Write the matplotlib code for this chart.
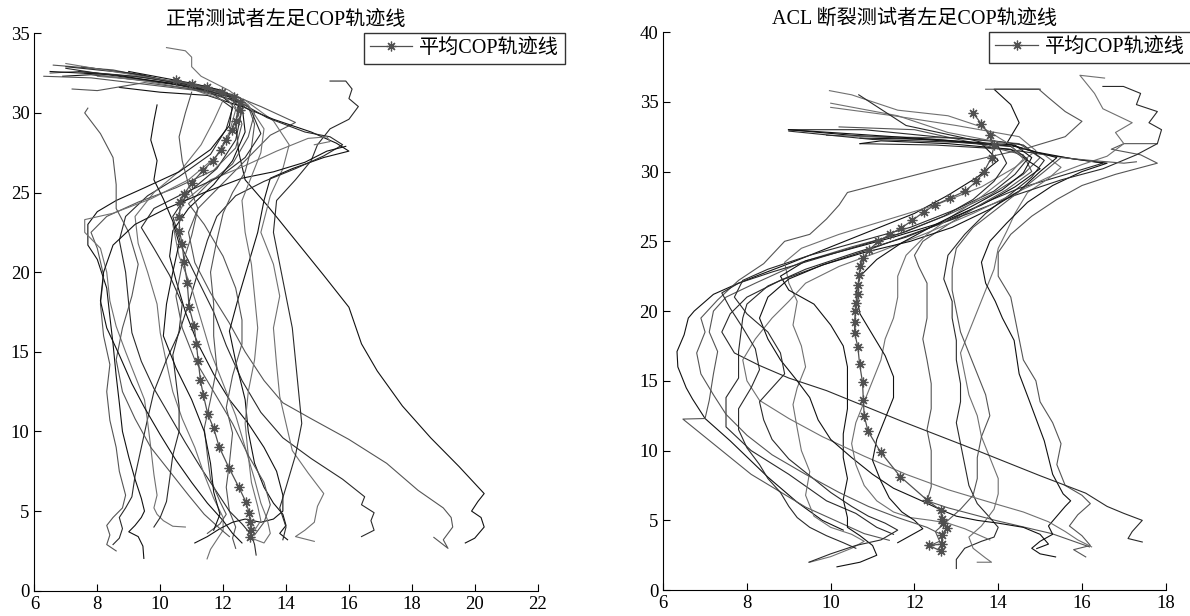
import numpy as np
import matplotlib.pyplot as plt

plt.rcParams['font.family'] = ['Liberation Serif', 'Noto Sans CJK SC']

# 正常测试者: 各次 COP 轨迹 (x, y)
normal_01 = [(19.7, 3.0), (20.0, 3.3), (20.3, 4.0), (20.2, 4.6), (19.9, 5.0), (20.1, 5.6), (20.3, 6.1), (19.5, 7.8), (18.6, 9.6), (17.7, 11.6), (16.9, 13.8), (16.4, 15.5), (16.0, 17.8), (15.2, 19.8), (14.3, 22.0), (13.4, 24.2), (12.7, 25.8), (12.5, 27.5), (12.4, 29.3), (12.5, 30.6), (12.0, 31.3), (10.8, 31.7), (9.2, 32.1), (7.8, 32.4), (6.9, 32.3)]
normal_02 = [(18.7, 3.35), (19.15, 2.66), (19.0, 3.2), (19.3, 4.0), (19.25, 4.6), (19.0, 5.2), (18.2, 6.3), (17.2, 8.0), (16.0, 9.5), (14.8, 10.8), (13.9, 11.8), (13.3, 13.2), (12.7, 15.0), (12.2, 16.8), (11.6, 18.7), (11.1, 20.6), (10.9, 22.5), (11.2, 24.0), (12.0, 25.6), (12.8, 27.2), (13.5, 28.6), (14.3, 29.4), (13.2, 30.4), (12.2, 31.2), (10.5, 31.9), (8.5, 32.7), (6.6, 33.0)]
normal_03 = [(16.4, 3.4), (16.8, 3.8), (16.7, 4.4), (16.8, 4.9), (16.4, 5.4), (16.5, 5.9), (15.8, 7.0), (14.8, 8.3), (13.9, 9.6), (13.2, 11.2), (12.6, 13.2), (12.1, 15.4), (11.7, 17.5), (11.2, 19.5), (10.7, 21.5), (10.4, 23.5), (10.9, 25.0), (11.8, 26.5), (12.4, 28.3), (12.6, 30.2), (12.1, 31.2), (10.9, 31.8), (9.0, 32.5), (7.0, 32.9)]
normal_04 = [(14.9, 3.1), (14.3, 3.4), (14.6, 3.8), (14.9, 4.3), (15.0, 5.3), (15.2, 6.1), (14.7, 7.4), (14.2, 8.8), (14.0, 10.5), (13.8, 12.2), (13.7, 14.2), (13.6, 16.5), (13.8, 18.5), (13.6, 20.5), (13.2, 22.5), (13.5, 24.8), (13.9, 26.5), (14.1, 28.0), (13.6, 29.5), (12.7, 30.8), (11.5, 31.6), (9.8, 32.0), (8.0, 32.3)]
normal_05 = [(14.05, 3.2), (13.8, 3.6), (14.0, 4.1), (13.9, 4.8), (13.6, 5.5), (13.3, 6.5), (13.0, 8.0), (12.8, 10.0), (12.7, 12.0), (12.4, 14.4), (12.2, 16.3), (12.5, 18.5), (12.8, 20.5), (13.1, 22.5), (13.3, 24.5), (13.5, 25.9), (14.2, 26.5), (15.2, 27.2), (16.0, 27.6), (15.6, 28.1), (14.8, 28.8), (13.6, 29.6), (12.6, 30.4), (11.5, 31.1), (10.0, 31.3), (8.7, 31.6)]
normal_06 = [(12.4, 2.66), (12.3, 3.3), (12.4, 4.0), (12.2, 5.0), (12.1, 6.5), (12.2, 8.0), (12.3, 9.9), (12.1, 11.5), (12.3, 13.5), (12.6, 15.5), (12.6, 17.0), (12.4, 19.0), (12.0, 21.0), (11.4, 23.0), (10.9, 24.3), (11.5, 25.5), (12.3, 26.8), (12.8, 28.5), (13.0, 30.0), (12.5, 31.0), (11.4, 31.7), (9.6, 32.2), (7.4, 32.6), (6.5, 32.5)]
normal_07 = [(13.05, 2.24), (13.0, 2.9), (12.9, 3.5), (12.6, 4.2), (12.2, 5.0), (11.8, 6.2), (11.3, 7.7), (10.8, 9.3), (10.3, 11.0), (9.8, 12.7), (9.4, 14.4), (9.1, 16.2), (9.0, 18.0), (8.9, 20.0), (8.7, 22.0), (8.9, 23.5), (9.6, 24.8), (10.6, 26.0), (11.6, 27.4), (12.1, 29.0), (12.3, 30.3), (11.6, 31.3), (10.2, 31.9), (8.3, 32.4), (7.0, 32.8)]
normal_08 = [(11.49, 2.0), (11.6, 2.6), (11.8, 3.2), (12.0, 3.8), (12.0, 4.6), (11.7, 5.8), (11.4, 7.3), (11.1, 9.0), (10.7, 10.8), (10.4, 12.5), (10.2, 14.3), (10.0, 16.2), (9.9, 18.0), (9.6, 20.0), (9.3, 21.8), (9.2, 23.5), (9.8, 25.0), (10.7, 26.5), (11.3, 28.0), (11.7, 29.5), (12.0, 30.8), (11.0, 31.5), (9.5, 32.0), (7.6, 32.5)]
normal_09 = [(9.48, 2.03), (9.45, 2.8), (9.3, 3.4), (9.0, 3.7), (9.2, 4.1), (9.4, 4.6), (9.5, 5.0), (9.4, 5.8), (9.2, 7.0), (9.0, 8.4), (8.8, 10.0), (8.7, 11.8), (8.6, 13.5), (8.5, 15.5), (8.4, 17.2), (8.3, 19.0), (8.0, 20.8), (7.7, 21.7), (7.7, 23.0), (8.0, 23.8), (8.6, 24.5), (9.5, 25.3), (10.6, 26.3), (11.6, 27.7), (12.2, 29.2), (12.3, 30.5), (11.8, 31.3), (10.5, 31.8), (8.5, 32.4), (6.5, 32.6)]
normal_10 = [(8.6, 2.5), (8.3, 2.9), (8.4, 3.5), (8.3, 4.1), (8.5, 4.6), (8.8, 5.2), (8.9, 6.0), (8.7, 7.5), (8.6, 9.0), (8.4, 10.7), (8.3, 12.5), (8.4, 14.2), (8.2, 16.0), (8.1, 18.0), (8.2, 19.8), (8.0, 21.5), (7.8, 22.5), (8.3, 23.5), (9.3, 24.4), (10.5, 25.3), (11.7, 26.4), (12.4, 27.8), (12.6, 29.3), (12.3, 30.8), (11.2, 31.4), (9.5, 31.8), (7.8, 32.2), (6.3, 32.3)]
normal_11 = [(8.5, 2.9), (8.7, 3.3), (8.8, 3.9), (8.7, 4.6), (8.9, 5.2), (9.1, 5.9), (9.2, 7.2), (9.4, 9.0), (9.6, 10.8), (9.8, 12.5), (10.2, 14.5), (10.6, 16.2), (10.9, 18.0), (11.2, 20.0), (11.5, 22.0), (11.8, 23.5), (12.4, 24.8), (13.3, 25.7), (14.3, 26.5), (15.2, 27.3), (15.8, 28.0), (15.4, 28.5), (14.6, 28.8), (13.4, 29.7), (12.5, 30.7), (11.2, 31.5), (9.4, 32.4), (7.5, 32.9)]
normal_12 = [(10.8, 4.0), (10.4, 4.05), (10.1, 4.4), (9.9, 4.8), (9.8, 5.2), (9.9, 6.0), (9.8, 7.3), (9.7, 9.0), (9.6, 10.6), (9.5, 12.0), (9.2, 13.5), (8.9, 15.0), (8.6, 16.6), (8.4, 18.2), (8.3, 20.0), (8.1, 21.5), (7.6, 22.5), (7.6, 23.3), (8.5, 23.7), (9.7, 24.6), (10.9, 25.8), (11.8, 27.3), (12.2, 28.8), (12.4, 30.2), (12.0, 31.2), (10.6, 31.9), (8.8, 32.5), (7.0, 33.1)]
normal_13 = [(11.1, 3.0), (11.5, 3.4), (11.9, 3.9), (12.3, 4.3), (12.7, 4.5), (13.2, 4.3), (13.6, 4.5), (13.9, 5.0), (13.9, 6.0), (13.7, 7.5), (13.3, 9.0), (12.8, 10.5), (12.2, 12.0), (11.7, 13.6), (11.2, 15.5), (10.8, 17.5), (10.5, 19.5), (10.3, 21.0), (10.4, 22.6), (10.9, 24.0), (11.7, 25.5), (12.3, 27.0), (12.7, 28.8), (12.6, 30.5), (12.0, 31.4), (10.9, 31.9), (9.0, 32.6)]
normal_14 = [(12.2, 3.4), (11.9, 3.9), (11.4, 4.8), (10.9, 6.0), (10.3, 7.5), (9.7, 9.0), (9.2, 10.8), (8.8, 12.5), (8.6, 14.5), (8.8, 16.5), (9.1, 18.5), (9.3, 20.5), (9.0, 22.5), (8.6, 24.0), (8.6, 25.5), (8.5, 27.2), (8.1, 28.7), (7.6, 30.0), (7.7, 30.3)]
normal_15 = [(13.9, 3.2), (14.0, 4.0), (13.8, 5.2), (14.0, 6.5), (14.3, 8.5), (14.5, 10.5), (14.4, 12.5), (14.3, 14.5), (14.2, 16.5), (14.0, 18.5), (13.8, 20.5), (13.6, 22.5), (13.7, 24.5), (14.3, 25.8), (14.8, 27.0), (15.0, 28.0), (15.4, 29.0), (16.0, 29.6), (16.3, 30.4), (16.0, 30.9), (16.1, 31.5), (15.9, 32.0), (15.4, 32.0)]
normal_16 = [(12.9, 3.3), (13.3, 3.0), (13.5, 3.6), (13.4, 4.5), (13.2, 5.5), (13.0, 7.0), (12.7, 9.0), (12.4, 11.0), (12.0, 13.0), (11.6, 15.0), (11.3, 17.0), (11.0, 19.0), (10.6, 21.0), (10.4, 23.0), (10.8, 24.5), (11.6, 25.8), (12.6, 26.6), (13.7, 27.6), (14.7, 28.4), (15.3, 28.5), (15.4, 28.2), (14.9, 28.0)]
normal_17 = [(12.6, 3.0), (12.3, 3.6), (12.0, 4.4), (11.5, 5.5), (11.0, 6.8), (10.5, 8.2), (10.0, 9.8), (9.5, 11.5), (9.1, 13.0), (8.7, 14.8), (8.3, 16.5), (8.1, 18.2), (8.2, 20.0), (8.5, 21.7), (9.2, 23.0), (10.2, 24.0), (11.4, 25.0), (12.6, 25.9), (13.6, 26.3), (14.6, 26.9), (15.3, 27.6), (15.9, 27.9)]
normal_18 = [(11.5, 3.6), (11.9, 4.2), (12.1, 4.8), (11.9, 5.6), (11.6, 7.0), (11.5, 8.5), (11.4, 10.2), (11.6, 12.0), (11.8, 14.0), (11.7, 16.0), (11.7, 18.0), (11.6, 20.0), (11.8, 22.0), (12.0, 23.7), (12.3, 25.0), (12.7, 26.3), (12.9, 27.8), (13.0, 29.3), (12.8, 30.4), (12.1, 31.1), (11.0, 31.5), (9.5, 31.9), (8.0, 31.4), (7.2, 31.5)]
normal_19 = [(9.8, 4.0), (10.0, 4.6), (10.2, 5.6), (10.3, 7.0), (10.4, 8.5), (10.6, 10.0), (10.6, 11.6), (10.5, 13.2), (10.4, 14.8), (10.6, 16.3), (10.7, 18.0), (10.3, 19.8), (9.8, 21.5), (9.4, 22.8), (9.8, 24.0), (10.8, 25.0), (11.9, 26.0), (12.7, 27.2), (13.2, 28.7), (12.9, 30.1), (12.2, 31.0), (10.8, 31.8), (9.2, 32.3), (7.4, 32.6)]
normal_20 = [(13.0, 3.8), (13.2, 4.4), (13.1, 5.3), (12.9, 6.8), (12.8, 8.5), (12.7, 10.5), (12.8, 12.5), (13.0, 14.5), (13.1, 16.5), (13.0, 18.5), (12.9, 20.5), (12.7, 22.5), (12.6, 24.5), (12.9, 26.0), (13.2, 27.5), (13.3, 29.0), (12.8, 30.5), (12.2, 31.4), (11.3, 32.3), (11.0, 32.9), (11.0, 33.5), (10.8, 33.9), (10.2, 34.1)]
normal_21 = [(9.9, 30.5), (9.8, 29.5), (9.7, 28.3), (9.9, 27.0), (9.8, 25.8), (10.1, 24.6), (10.4, 23.2), (10.6, 21.8), (10.4, 20.0), (10.2, 18.0), (10.1, 16.0), (10.5, 14.0), (11.0, 12.0), (11.4, 10.0), (11.6, 8.0), (11.7, 6.2), (11.9, 4.8), (11.7, 3.8)]
normal_22 = [(11.0, 31.3), (10.8, 30.0), (10.6, 28.5), (10.7, 27.0), (10.9, 25.5), (11.2, 24.0), (11.0, 22.3), (10.7, 20.5), (10.5, 18.5), (10.7, 16.5), (11.1, 14.5), (11.7, 12.5), (12.3, 10.5), (12.8, 8.5), (13.3, 6.8), (13.5, 5.4), (13.3, 4.3), (13.0, 3.5)]
normal_mean = [(10.5, 32.05), (11.0, 31.8), (11.49, 31.6), (11.98, 31.3), (12.34, 31.0), (12.53, 30.7), (12.53, 30.2), (12.4, 29.5), (12.28, 28.9), (12.1, 28.3), (11.92, 27.66), (11.67, 27.0), (11.37, 26.4), (11.0, 25.6), (10.76, 24.9), (10.64, 24.4), (10.61, 23.47), (10.61, 22.6), (10.7, 21.75), (10.76, 20.65), (10.86, 19.3), (10.92, 17.8), (11.08, 16.6), (11.15, 15.5), (11.21, 14.4), (11.28, 13.2), (11.37, 12.3), (11.51, 11.1), (11.7, 10.2), (11.88, 9.0), (12.19, 7.7), (12.5, 6.5), (12.73, 5.55), (12.83, 4.86), (12.87, 4.33), (12.89, 3.81), (12.85, 3.35)]

# ACL 断裂测试者: 各次 COP 轨迹 (x, y)
acl_01 = [(10.3, 4.3), (9.8, 5.0), (9.2, 6.3), (8.5, 8.1), (7.6, 10.7), (7.0, 12.3), (6.7, 13.7), (6.55, 14.5), (6.35, 16.0), (6.33, 17.1), (6.5, 18.3), (6.6, 19.5), (6.74, 20.0), (7.2, 21.2), (7.8, 22.0), (8.3, 22.6), (9.0, 23.4), (10.0, 24.6), (11.0, 25.8), (12.0, 27.0), (12.8, 28.3), (13.5, 29.6), (14.0, 30.8), (13.6, 32.0), (12.2, 32.3), (10.5, 32.6), (9.0, 33.0)]
acl_02 = [(11.4, 3.57), (10.8, 4.05), (10.1, 5.0), (9.4, 5.95), (8.1, 8.3), (6.47, 12.26), (7.0, 12.3), (7.1, 13.6), (7.2, 15.5), (7.3, 17.1), (7.1, 18.5), (7.2, 20.0), (7.5, 21.0), (8.2, 22.0), (9.3, 23.5), (10.5, 24.6), (11.6, 25.5), (12.8, 26.9), (13.8, 28.3), (14.6, 29.8), (15.0, 31.0), (14.5, 32.0), (13.0, 32.4), (11.0, 32.5), (9.9, 32.6)]
acl_03 = [(11.5, 4.0), (11.1, 4.5), (10.6, 5.5), (9.9, 6.4), (9.0, 8.3), (8.1, 10.0), (7.5, 11.7), (7.5, 13.8), (7.8, 15.2), (7.8, 17.1), (7.9, 19.5), (8.0, 20.5), (8.5, 21.8), (9.4, 23.0), (10.6, 24.2), (11.8, 25.3), (12.9, 26.6), (13.7, 27.8), (14.5, 28.8), (15.4, 29.6), (16.5, 30.6), (15.6, 31.0), (14.2, 31.6), (12.5, 31.9), (10.7, 32.0)]
acl_04 = [(9.5, 2.0), (10.0, 2.4), (10.5, 3.0), (10.8, 3.5), (10.5, 4.0), (10.0, 4.5), (9.6, 5.3), (9.4, 6.8), (9.5, 8.5), (9.3, 10.0), (9.2, 11.6), (9.1, 13.3), (9.2, 14.5), (9.4, 16.0), (9.3, 17.5), (9.1, 19.0), (9.2, 20.7), (9.0, 22.0), (8.9, 23.5), (9.3, 24.5), (10.2, 25.5), (11.3, 26.5), (12.5, 27.6), (13.6, 28.9), (14.4, 30.3), (14.9, 31.5), (14.5, 32.5), (13.0, 33.3), (11.5, 34.0), (10.0, 34.6)]
acl_05 = [(10.15, 1.67), (10.7, 2.0), (11.1, 2.5), (11.0, 3.2), (10.7, 3.9), (10.4, 4.5), (10.4, 5.2), (10.3, 6.5), (10.4, 8.0), (10.3, 9.5), (10.3, 11.2), (10.4, 13.0), (10.4, 14.6), (10.4, 16.0), (10.3, 17.5), (10.0, 19.0), (9.6, 20.5), (9.0, 21.5), (8.8, 22.5), (9.4, 23.6), (10.4, 24.4), (11.5, 25.3), (12.6, 26.3), (13.6, 27.6), (14.4, 28.9), (15.0, 30.2), (14.3, 31.6), (12.8, 32.0), (11.2, 32.2), (10.7, 32.0)]
acl_06 = [(16.18, 3.1), (15.28, 4.05), (13.93, 5.0), (12.8, 5.9), (12.3, 6.4), (12.4, 7.4), (12.4, 8.8), (12.4, 10.0), (12.3, 11.5), (12.4, 13.0), (12.4, 14.8), (12.3, 16.5), (12.2, 18.0), (12.3, 19.5), (12.3, 20.7), (12.3, 22.0), (12.1, 23.2), (12.0, 24.0), (12.2, 25.0), (12.8, 26.2), (13.5, 27.5), (14.2, 28.7), (14.8, 30.0), (14.6, 31.2), (13.5, 32.0), (12.0, 33.0), (10.2, 33.2)]
acl_07 = [(13.0, 1.55), (13.0, 2.2), (13.2, 3.0), (13.6, 3.5), (13.9, 3.8), (14.0, 4.5), (13.8, 5.2), (13.5, 6.2), (13.3, 7.5), (13.2, 9.0), (13.1, 10.5), (13.0, 12.0), (13.1, 13.5), (13.1, 14.8), (13.0, 16.5), (13.0, 17.9), (12.9, 19.5), (12.9, 20.7), (12.7, 22.3), (12.8, 24.0), (13.2, 25.5), (13.7, 27.0), (14.3, 28.4), (14.8, 29.6), (15.1, 30.8), (14.6, 31.9), (13.9, 32.2), (12.5, 32.5), (10.8, 33.0), (9.0, 33.0)]
acl_08 = [(13.5, 2.0), (13.84, 2.0), (13.7, 2.3), (13.4, 3.0), (13.3, 3.8), (13.6, 4.6), (13.9, 5.8), (14.0, 6.9), (14.0, 8.0), (13.8, 9.5), (13.6, 11.0), (13.5, 12.5), (13.3, 14.0), (13.2, 15.5), (13.1, 17.0), (13.3, 18.5), (13.5, 20.0), (13.7, 21.5), (13.9, 23.0), (14.0, 24.5), (14.2, 25.7), (14.4, 27.0), (14.7, 28.5), (15.2, 29.5), (15.5, 30.3), (15.1, 31.2), (14.2, 32.0), (12.8, 32.8), (11.6, 34.0), (10.0, 34.9)]
acl_09 = [(15.37, 2.38), (15.0, 2.6), (14.8, 3.0), (15.0, 3.5), (15.3, 4.0), (15.2, 4.6), (15.4, 5.3), (15.6, 6.0), (15.73, 6.4), (15.55, 6.9), (15.3, 8.3), (15.1, 10.7), (14.74, 13.6), (14.5, 15.5), (14.38, 17.9), (14.1, 19.5), (13.93, 20.7), (13.7, 22.0), (13.6, 23.5), (13.8, 25.0), (14.2, 26.3), (14.7, 27.8), (15.3, 29.0), (16.0, 30.0), (16.6, 30.6), (15.8, 30.9), (14.9, 31.4), (14.2, 32.0), (14.5, 33.5), (14.3, 34.8), (13.9, 35.9), (15.0, 35.9)]
acl_10 = [(16.09, 2.38), (15.8, 2.9), (16.2, 3.2), (16.0, 3.9), (15.7, 4.6), (15.9, 5.4), (16.2, 6.2), (16.0, 6.8), (15.6, 7.5), (15.4, 9.0), (15.5, 10.5), (15.3, 12.0), (15.0, 13.5), (14.9, 15.0), (14.6, 16.5), (14.5, 18.0), (14.4, 19.5), (14.3, 21.0), (14.0, 22.5), (14.0, 24.2), (14.3, 25.5), (14.8, 26.8), (15.4, 28.0), (16.0, 29.0), (16.8, 29.8), (17.8, 30.6), (17.4, 31.2), (16.7, 31.6), (17.0, 32.0), (17.8, 32.0)]
acl_11 = [(17.44, 3.45), (17.1, 3.7), (17.2, 4.2), (17.44, 5.0), (17.0, 5.5), (16.6, 6.0), (16.09, 6.95), (15.0, 8.2), (13.5, 10.0), (11.7, 12.1), (9.9, 14.3), (9.0, 15.2), (8.3, 16.1), (7.7, 17.0), (7.4, 18.5), (7.6, 19.8), (8.0, 21.0), (8.8, 22.2), (9.9, 23.4), (11.0, 24.5), (12.2, 25.8), (13.3, 27.0), (14.4, 28.3), (15.5, 29.4), (16.5, 30.2), (17.3, 31.2), (17.8, 32.0), (17.9, 33.0), (17.6, 33.5), (17.8, 34.3), (17.3, 34.8), (17.4, 35.6), (16.99, 36.1), (16.5, 36.1)]
acl_12 = [(16.23, 3.1), (15.9, 3.6), (15.6, 4.2), (15.2, 4.9), (14.6, 5.6), (13.8, 6.3), (12.8, 7.2), (11.8, 8.3), (10.8, 9.6), (9.8, 11.0), (9.0, 12.3), (8.3, 13.6), (8.0, 15.0), (7.9, 16.5), (8.2, 18.0), (8.6, 19.5), (9.0, 20.7), (9.4, 22.0), (10.2, 23.2), (11.2, 24.3), (12.3, 25.6), (13.4, 27.0), (14.3, 28.3), (15.2, 29.6), (16.0, 30.5), (16.6, 31.1), (17.0, 32.0), (16.8, 32.8), (17.2, 33.5), (16.5, 34.5), (16.3, 35.6), (15.95, 36.9), (16.54, 36.7)]
acl_13 = [(14.92, 2.98), (15.2, 3.3), (15.0, 4.0), (14.6, 4.5), (14.0, 4.8), (13.5, 5.0), (13.0, 5.3), (12.6, 5.8), (12.1, 6.5), (11.5, 7.3), (11.0, 8.3), (10.5, 9.5), (10.0, 10.8), (9.7, 12.2), (9.5, 13.8), (9.2, 15.0), (8.8, 16.5), (8.5, 18.0), (8.3, 19.5), (8.5, 21.0), (9.0, 22.3), (9.8, 23.3), (10.8, 24.2), (11.9, 25.0), (12.9, 26.0), (13.8, 27.3), (14.5, 28.6), (15.0, 30.0), (15.4, 31.0), (14.4, 31.8), (12.5, 32.3), (10.7, 32.4)]
acl_14 = [(12.3, 3.1), (12.6, 3.5), (12.5, 4.2), (12.8, 5.0), (13.1, 5.8), (13.4, 6.8), (13.5, 8.0), (13.5, 9.5), (13.6, 11.0), (13.8, 12.5), (13.7, 14.0), (13.5, 15.5), (13.3, 17.0), (13.1, 18.5), (13.0, 20.0), (12.9, 21.5), (12.9, 23.0), (13.0, 24.5), (13.4, 26.0), (14.0, 27.4), (14.6, 28.8), (15.1, 30.0), (15.5, 31.0), (16.2, 30.8), (17.0, 30.6), (17.3, 30.7)]
acl_15 = [(9.48, 2.0), (10.0, 2.6), (10.6, 3.2), (11.2, 3.6), (11.6, 4.3), (11.3, 4.8), (10.9, 5.3), (10.5, 6.0), (10.0, 7.0), (9.5, 8.2), (9.0, 9.4), (8.6, 10.8), (8.4, 12.2), (8.3, 13.5), (8.6, 14.5), (8.9, 15.5), (8.8, 17.0), (8.5, 18.5), (8.0, 19.8), (7.7, 21.0), (7.9, 22.2), (8.5, 23.0), (9.5, 24.0), (10.7, 25.0), (11.9, 26.0), (13.0, 27.3), (13.9, 28.6), (14.4, 29.8), (14.7, 30.9), (14.3, 31.8), (13.0, 32.1), (11.0, 32.3), (9.0, 32.9)]
acl_16 = [(13.8, 3.6), (13.5, 4.0), (13.2, 4.4), (12.8, 4.8), (12.4, 5.0), (11.9, 5.2), (11.5, 5.6), (11.1, 6.4), (10.8, 7.5), (10.6, 9.0), (10.5, 10.5), (10.6, 12.0), (10.8, 13.5), (11.0, 15.0), (11.2, 16.5), (11.3, 18.0), (11.5, 19.5), (11.6, 21.0), (11.6, 22.5), (11.8, 24.0), (12.3, 25.5), (12.9, 26.8), (13.6, 28.2), (14.2, 29.6), (14.6, 30.9), (14.3, 31.9), (13.6, 33.2), (12.8, 34.0), (11.6, 34.4), (10.5, 35.5), (9.97, 35.8)]
acl_17 = [(11.6, 3.4), (11.9, 3.9), (12.2, 4.4), (12.0, 5.0), (11.7, 5.6), (11.4, 6.6), (11.2, 7.8), (11.0, 9.3), (11.1, 10.8), (11.3, 12.3), (11.5, 13.8), (11.5, 15.3), (11.3, 16.8), (11.0, 18.3), (10.7, 19.8), (10.6, 21.2), (10.7, 22.5), (11.1, 23.7), (11.7, 24.9), (12.5, 26.2), (13.3, 27.4), (14.1, 28.7), (14.6, 29.9), (14.8, 31.0), (14.4, 31.9), (12.0, 32.4), (10.0, 32.8), (8.99, 33.0)]
acl_18 = [(12.7, 3.9), (12.3, 4.5), (11.6, 5.2), (10.9, 6.0), (10.2, 7.0), (9.4, 8.3), (8.6, 9.7), (8.0, 11.1), (7.5, 12.6), (7.2, 14.0), (6.9, 15.5), (6.8, 17.0), (7.0, 18.5), (6.9, 19.5), (7.3, 20.8), (7.8, 22.2), (8.4, 23.4), (8.9, 25.0), (9.5, 25.5), (9.9, 26.6), (10.2, 27.6), (10.4, 28.5), (11.3, 29.2), (12.6, 30.2), (13.7, 31.0), (14.6, 31.6), (15.6, 32.5), (16.0, 33.6), (15.6, 34.3), (15.2, 35.3), (14.97, 35.9), (13.7, 35.9)]
acl_19 = [(10.6, 3.0), (10.3, 3.4), (9.9, 3.9), (9.5, 4.5), (9.2, 5.2), (9.0, 6.0), (8.8, 7.0), (8.5, 8.0), (8.3, 9.0), (8.0, 10.2), (7.8, 11.5), (7.8, 13.0), (8.1, 14.5), (8.3, 15.8), (8.2, 17.3), (7.9, 18.8), (7.6, 20.2), (7.4, 21.3), (7.8, 22.0), (8.6, 22.8), (9.6, 23.7), (10.7, 24.7), (11.8, 25.7), (12.7, 26.8), (13.4, 28.0), (13.9, 29.3), (14.2, 30.6), (14.0, 31.8), (13.2, 32.4), (11.8, 33.3), (10.67, 35.5)]
acl_mean = [(12.63, 2.8), (12.35, 3.2), (12.65, 3.3), (12.65, 3.93), (12.78, 4.45), (12.69, 4.81), (12.65, 5.12), (12.63, 5.71), (12.31, 6.43), (11.66, 8.14), (11.19, 9.9), (10.89, 11.4), (10.8, 12.5), (10.78, 13.6), (10.76, 14.9), (10.69, 16.2), (10.65, 17.4), (10.57, 18.45), (10.57, 19.2), (10.59, 20.0), (10.6, 20.6), (10.65, 21.2), (10.66, 21.9), (10.68, 22.6), (10.71, 23.2), (10.78, 23.8), (10.92, 24.4), (11.14, 25.0), (11.41, 25.5), (11.68, 25.95), (11.95, 26.5), (12.22, 27.1), (12.49, 27.6), (12.85, 28.1), (13.21, 28.6), (13.48, 29.3), (13.66, 30.0), (13.84, 31.0), (13.9, 31.9), (13.8, 32.6), (13.6, 33.4), (13.4, 34.2)]

normal_tracks = [normal_01, normal_02, normal_03, normal_04, normal_05, normal_06, normal_07, normal_08, normal_09, normal_10, normal_11,
                 normal_12, normal_13, normal_14, normal_15, normal_16, normal_17, normal_18, normal_19, normal_20, normal_21, normal_22]
acl_tracks = [acl_01, acl_02, acl_03, acl_04, acl_05, acl_06, acl_07, acl_08, acl_09, acl_10,
              acl_11, acl_12, acl_13, acl_14, acl_15, acl_16, acl_17, acl_18, acl_19]

line_colors = ['#111111', '#555555', '#2a2a2a', '#707070']
cjk = ['Liberation Serif', 'Noto Sans CJK SC']
asterisk = (8, 2, 0)  # MATLAB 风格的 '*' 标记

fig = plt.figure(figsize=(11.9, 6.16), dpi=100)
ax1 = fig.add_axes([0.0289, 0.041, 0.4229, 0.905])
ax2 = fig.add_axes([0.5573, 0.042, 0.4223, 0.906])


def draw_panel(ax, tracks, mean, title, xmax, ymax, leg_x):
    for i, tr in enumerate(tracks):
        p = np.array(tr)
        ax.plot(p[:, 0], p[:, 1], color=line_colors[i % 4], lw=0.8)
    m = np.array(mean)
    ax.plot(m[:, 0], m[:, 1], color='#505050', lw=0.9, marker=asterisk, markersize=7,
            markeredgewidth=0.9, label='平均COP轨迹线')
    ax.set_xlim(6, xmax)
    ax.set_ylim(0, ymax)
    ax.set_xticks(np.arange(6, xmax + 1, 2))
    ax.set_yticks(np.arange(0, ymax + 1, 5))
    ax.spines['top'].set_visible(False)
    ax.spines['right'].set_visible(False)
    ax.tick_params(direction='in', length=5, labelsize=13.5)
    ax.set_title(title, fontsize=14.5, family=cjk, pad=6)
    leg = ax.legend(loc='upper left', bbox_to_anchor=(leg_x, 1.0), fancybox=False,
                    prop={'family': cjk, 'size': 14.5}, handlelength=2.1, handletextpad=0.35,
                    borderpad=0.3, borderaxespad=0)
    leg.get_frame().set_edgecolor('black')
    leg.get_frame().set_linewidth(1.0)


draw_panel(ax1, normal_tracks, normal_mean, '正常测试者左足COP轨迹线', 22, 35, 0.654)
draw_panel(ax2, acl_tracks, acl_mean, 'ACL 断裂测试者左足COP轨迹线', 18, 40, 0.649)

plt.savefig('out.png')
